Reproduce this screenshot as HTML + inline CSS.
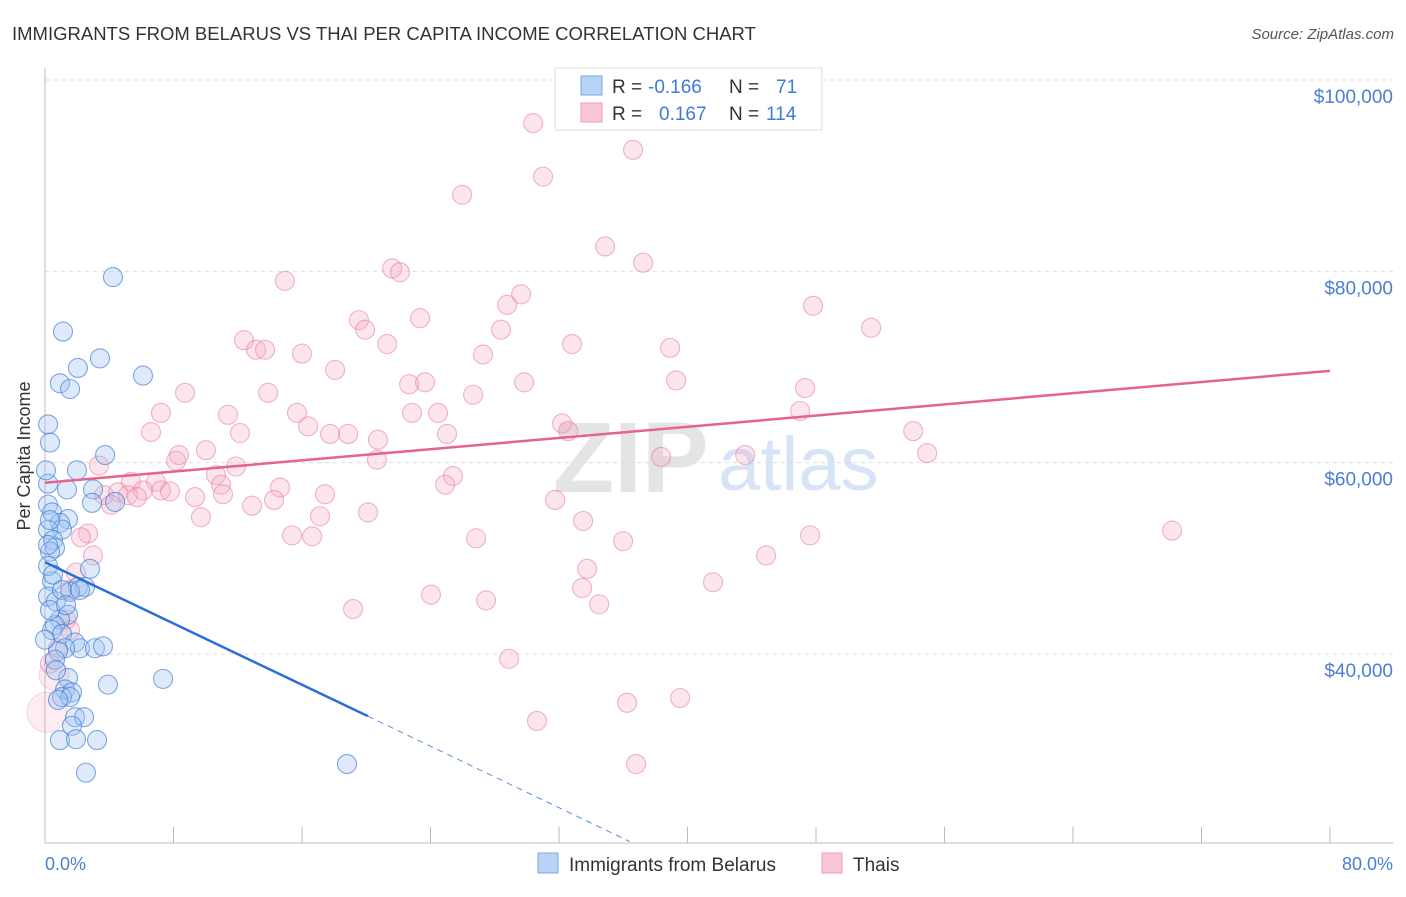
<!DOCTYPE html>
<html><head><meta charset="utf-8"><style>
body{margin:0;background:#fff;font-family:"Liberation Sans",sans-serif;}
svg text{font-family:"Liberation Sans",sans-serif;}
</style></head><body>
<svg width="1406" height="892" viewBox="0 0 1406 892">
<text x="12" y="40" font-size="18.5" fill="#333">IMMIGRANTS FROM BELARUS VS THAI PER CAPITA INCOME CORRELATION CHART</text>
<text x="1394" y="39" font-size="15" fill="#555" text-anchor="end" font-style="italic">Source: ZipAtlas.com</text>
<text x="553" y="492" font-size="100" fill="#e4e4e4" font-family="Liberation Serif" font-weight="bold">ZIP</text>
<text x="718" y="490" font-size="76" fill="#d6e4f5">atlas</text>
<g id="grid"></g><g id="axes"></g><g id="pink"></g><g id="blue"></g><g id="lines"></g>
<text x="30" y="456" font-size="18" fill="#333" text-anchor="middle" transform="rotate(-90 30 456)">Per Capita Income</text>
<text x="45" y="870" font-size="18" fill="#4a7fd4">0.0%</text>
<text x="1393" y="870" font-size="18" fill="#4a7fd4" text-anchor="end">80.0%</text>
<g>
<rect x="555" y="68" width="267" height="62" fill="#fff" stroke="#ddd"/>
<rect x="581" y="76" width="21" height="19" fill="#b8d3f5" stroke="#7aa7e0"/>
<rect x="581" y="103" width="21" height="19" fill="#f9c7d6" stroke="#eb9cb4"/>
<text x="612" y="93" font-size="19" fill="#333">R = </text><text x="648" y="93" font-size="19" fill="#3f7bd6">-0.166</text>
<text x="729" y="93" font-size="19" fill="#333">N = </text><text x="776" y="93" font-size="19" fill="#3f7bd6">71</text>
<text x="612" y="120" font-size="19" fill="#333">R = </text><text x="659" y="120" font-size="19" fill="#3f7bd6">0.167</text>
<text x="729" y="120" font-size="19" fill="#333">N = </text><text x="766" y="120" font-size="19" fill="#3f7bd6">114</text>
</g>
<g>
<rect x="538" y="853" width="20" height="20" fill="#b8d3f5" stroke="#7aa7e0"/>
<text x="569" y="871" font-size="19" fill="#333">Immigrants from Belarus</text>
<rect x="822" y="853" width="20" height="20" fill="#f9c7d6" stroke="#eb9cb4"/>
<text x="853" y="871" font-size="19" fill="#333">Thais</text>
</g>
</svg>
<script>
const yTicks=[100000,80000,60000,40000];
const yTickLabels=["$100,000","$80,000","$60,000","$40,000"];
const xTicks=[0,8,16,24,32,40,48,56,64,72,80];
const bluePct=[4.23,1.12,3.42,2.05,0.93,1.56,6.1,0.19,0.31,3.74,1.99,2.99,1.37,0.19,2.93,4.36,0.19,0.44,1.43,0.93,1.06,0.19,0.5,0.62,0.31,2.8,0.44,2.05,2.49,1.56,0.19,0.68,1.43,0.93,0.62,0.44,1.06,1.87,2.18,3.11,3.61,1.25,0.81,7.35,1.43,3.92,1.25,1.68,1.06,1.56,1.87,2.43,1.68,0.93,1.93,3.24,2.55,18.8,0.19,0.31,0.62,0.81,0.19,0.31,0.06,0.5,1.06,0,1.31,2.18,0.68];
const blueInc=[79.4,73.7,70.9,69.9,68.3,67.7,69.1,64.0,62.1,60.8,59.2,57.2,57.2,57.8,55.8,55.9,55.6,54.8,54.1,53.7,53.0,53.0,51.9,51.1,50.7,48.9,47.6,47.0,47.0,46.5,46.0,45.5,44.1,43.6,43.0,42.5,42.1,41.2,40.6,40.6,40.8,40.6,40.3,37.4,37.5,36.8,36.3,36.0,35.5,35.5,33.4,33.4,32.5,31.0,31.1,31.0,27.6,28.5,49.2,44.6,39.4,35.2,51.4,54.0,59.2,48.3,46.7,41.5,45.1,46.7,38.3];
const pinkPct=[30.39,36.61,31.01,25.97,34.87,37.24,21.61,22.1,14.94,29.64,28.77,47.82,19.55,23.35,19.93,51.43,28.39,12.39,13.14,13.7,21.3,32.81,38.92,16.0,27.27,18.06,39.29,29.83,22.67,23.66,8.72,13.89,47.32,7.22,11.39,15.69,22.85,24.47,26.65,16.38,32.19,47.01,6.6,12.14,17.75,18.87,20.73,25.03,32.57,54.05,8.34,10.02,8.16,20.67,38.36,43.59,54.92,3.36,11.89,10.65,25.4,24.91,5.35,6.91,7.22,10.96,14.63,3.67,4.55,5.17,6.1,4.11,5.73,9.34,17.43,12.89,14.26,7.78,11.08,31.76,20.11,17.12,9.71,33.5,2.68,2.24,15.38,16.63,26.84,35.99,47.63,70.17,2.99,44.89,33.75,1.93,41.59,1.56,33.44,24.03,34.5,27.46,19.18,1.31,1.56,0.81,28.89,0.56,0.12,36.24,39.54,30.63,36.8,0.3];
const pinkInc=[95.5,92.7,89.9,88.0,82.6,80.9,80.3,79.9,79.0,77.6,76.5,76.4,74.9,75.1,73.9,74.1,73.9,72.8,71.8,71.8,72.4,72.4,72.0,71.4,71.3,69.7,68.6,68.4,68.2,68.4,67.3,67.3,67.8,65.2,65.0,65.2,65.2,65.2,67.1,63.8,64.1,65.4,63.2,63.1,63.0,63.0,62.4,63.0,63.3,63.3,60.8,61.3,60.2,60.3,60.6,60.8,61.0,59.7,59.6,58.7,58.6,57.7,58.0,58.0,57.1,57.7,57.4,56.6,56.9,56.6,57.1,55.6,56.4,56.4,56.7,55.5,56.1,57.0,56.7,56.1,54.8,54.4,54.3,53.9,52.6,52.2,52.4,52.3,52.1,51.8,52.4,52.9,50.3,50.3,48.9,48.5,47.5,46.7,46.9,46.2,45.2,45.6,44.7,43.6,42.5,40.6,39.5,37.8,33.9,34.9,35.4,33.0,28.5,39.0];
const pinkTrend=[[0,57.9],[80,69.6]];
const blueTrend=[[0,49.6],[20.1,33.5]];
const blueDash=[[20.1,33.5],[36.4,20.4]];
const NS="http://www.w3.org/2000/svg";
const X0=45,X1=1330,Ytop=80,Ybot=654;
function xs(p){return X0+p/80*(X1-X0);}
function ys(v){return Ytop+(100-v)/60*(Ybot-Ytop);}
function mk(tag,attrs,parent){const e=document.createElementNS(NS,tag);for(const k in attrs)e.setAttribute(k,attrs[k]);document.getElementById(parent).appendChild(e);return e;}
yTicks.forEach((t,i)=>{
 const g=mk('line',{x1:45,x2:1393,y1:ys(t/1000),y2:ys(t/1000),stroke:'#ddd','stroke-dasharray':'4,4'},'grid');
 
 
 const l=mk('text',{x:1393,y:ys(t/1000)+23,'font-size':19,fill:'#4a7fd4','text-anchor':'end'},'grid');
 l.textContent=yTickLabels[i];
 
 
});
const ax=mk('line',{x1:45,x2:45,y1:68,y2:843,stroke:'#bbb'},'axes');


const bx=mk('line',{x1:45,x2:1393,y1:843,y2:843,stroke:'#bbb'},'axes');


xTicks.forEach(t=>{
 const tk=mk('line',{x1:xs(t),x2:xs(t),y1:827,y2:843,stroke:'#bbb'},'axes');
 
 
});
pinkPct.forEach((p,i)=>{
 const big=(p<0.7&&pinkInc[i]<39);
 const c=mk('circle',{cx:xs(p),cy:ys(pinkInc[i]),r:big?(pinkInc[i]<36?20:15):9.5,fill:big?'rgba(245,170,195,0.22)':'rgba(245,170,195,0.3)',stroke:big?'rgba(232,140,170,0.3)':'rgba(232,120,155,0.55)','stroke-width':1.1},'pink');
 
 
});
bluePct.forEach((p,i)=>{
 const c=mk('circle',{cx:xs(p),cy:ys(blueInc[i]),r:9.5,fill:'rgba(160,195,240,0.35)',stroke:'rgba(60,125,215,0.65)','stroke-width':1.1},'blue');
 
 
});
const pl=mk('line',{x1:xs(pinkTrend[0][0]),y1:ys(pinkTrend[0][1]),x2:xs(pinkTrend[1][0]),y2:ys(pinkTrend[1][1]),stroke:'#e5638c','stroke-width':2.5},'lines');


const bl=mk('line',{x1:xs(blueTrend[0][0]),y1:ys(blueTrend[0][1]),x2:xs(blueTrend[1][0]),y2:ys(blueTrend[1][1]),stroke:'#2a6fd6','stroke-width':2.5},'lines');


const bd=mk('line',{x1:xs(blueDash[0][0]),y1:ys(blueDash[0][1]),x2:xs(blueDash[1][0]),y2:ys(blueDash[1][1]),stroke:'#5a8fdc','stroke-width':1,'stroke-dasharray':'6,5'},'lines');


</script>
</body></html>
